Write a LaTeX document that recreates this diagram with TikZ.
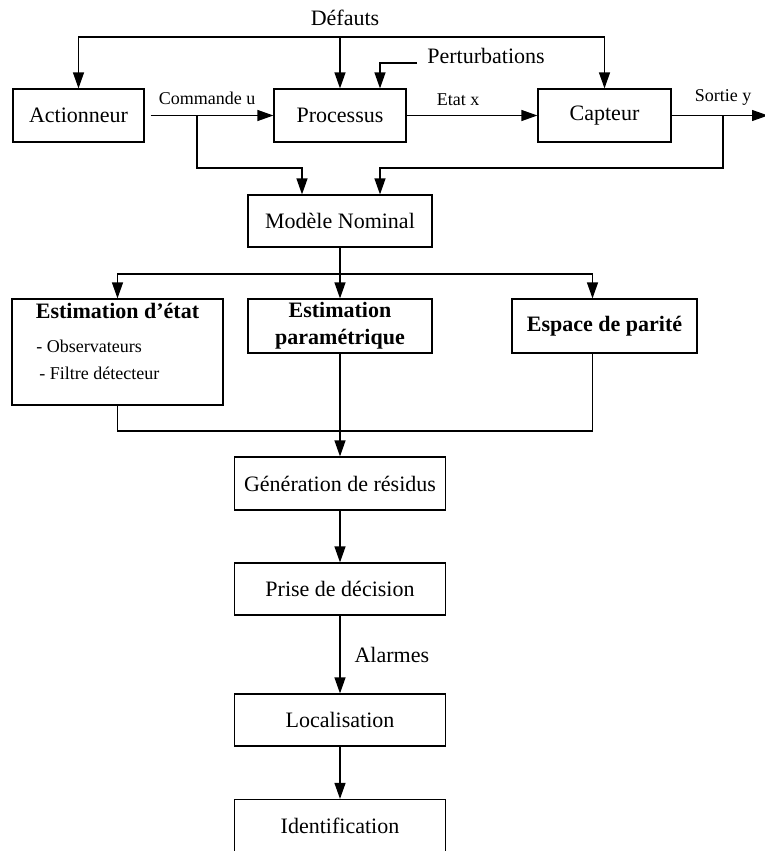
\documentclass[tikz,border=0pt]{standalone}
\usepackage{fontspec}
\setmainfont{Liberation Serif}
\usetikzlibrary{arrows.meta,positioning}

\tikzset{
  bloc/.style={draw, line width=0.6pt, inner sep=0pt, minimum height=26.5pt, font=\fontsize{11}{13.5}\selectfont},
  fleche/.style={line width=0.6pt, -{Triangle[length=8pt,width=5.5pt]}},
  trait/.style={line width=0.6pt},
  grand/.style={font=\fontsize{11}{13.5}\selectfont, inner sep=1pt},
  petit/.style={font=\fontsize{9}{11}\selectfont, inner sep=1pt},
}

\begin{document}
\begin{tikzpicture}[x=0.5pt,y=-0.5pt]
    \useasboundingbox (0,0) rectangle (765,851);

    % Chaine du systeme
    \node[bloc, minimum width=65.5pt] (act) at (78.5,115.5) {Actionneur};
    \node[bloc, minimum width=66pt] (proc) at (340,115.5) {Processus};
    \node[bloc, minimum width=66.5pt] (capt) at (604.5,115.5) {Capteur};
    \node[grand] (def) at (345,18) {Défauts};
    \node[grand, anchor=base west, inner xsep=5pt] (pert) at (417,63) {Perturbations};
    \coordinate (dh) at (340,37);
    \coordinate (cu) at (197,115.5);
    \coordinate (sy) at (723,115.5);
    \coordinate (sortie) at (768,115.5);

    % Defauts et perturbations
    \draw[fleche] (dh) -| (act.north);
    \draw[fleche] (dh) -| (capt.north);
    \draw[fleche] (dh) -- (proc.north);
    \draw[fleche] (pert.base west) -| ([xshift=20pt]proc.north);

    % Signaux
    \draw[fleche, shorten <=3pt] (act) -- (proc);
    \draw[fleche] (proc) -- (capt);
    \draw[fleche] (capt) -- (sortie);
    \node[petit] (cmd) at (207,98) {Commande u};
    \node[petit] (etat) at (458,100) {Etat x};
    \node[petit] (sor) at (723,97) {Sortie y};

    % Modele nominal
    \node[bloc, minimum width=92pt, minimum height=26pt] (mod) at (340,221) {Modèle Nominal};
    \draw[fleche] (cu) |- (250,168) -| ([xshift=-19pt]mod.north);
    \draw[fleche] (sy) |- (500,168) -| ([xshift=20pt]mod.north);

    % Methodes d'estimation
    \node[bloc, minimum width=105.5pt, minimum height=53pt] (estetat) at (117.5,352) {};
    \node[grand, font=\fontsize{11}{13.5}\selectfont\bfseries] (etitre) at (117.5,311) {Estimation d’état};
    \node[petit, anchor=west] (obs) at (34,346) {- Observateurs};
    \node[petit, anchor=west] (filt) at (37,373) {- Filtre détecteur};
    \node[bloc, minimum width=92pt, minimum height=27pt, align=center, font=\fontsize{11}{13.5}\selectfont\bfseries] (estparam) at (340,326) {Estimation\\paramétrique};
    \node[bloc, minimum width=92.5pt, minimum height=27pt, font=\fontsize{11}{13.5}\selectfont\bfseries] (parite) at (604.5,326) {Espace de parité};
    \coordinate (rep) at (340,274);
    \coordinate (col) at (340,431);
    \draw[trait] (mod.south) -- (rep);
    \draw[fleche] (rep) -| (estetat.north);
    \draw[fleche] (rep) -- (estparam.north);
    \draw[fleche] (rep) -| ([xshift=-6pt]parite.north);
    \draw[trait] (estetat.south) |- (col) -| ([xshift=-6pt]parite.south);

    % Diagnostic
    \node[bloc, minimum width=105.5pt] (gen) at (340,483.5) {Génération de résidus};
    \node[bloc, minimum width=105.5pt, minimum height=26pt] (dec) at (340,589) {Prise de décision};
    \node[bloc, minimum width=105.5pt, minimum height=26pt] (loc) at (340,720) {Localisation};
    \node[bloc, minimum width=105.5pt, minimum height=26pt] (ident) at (340,825.5) {Identification};
    \draw[fleche] (estparam.south) -- (gen.north);
    \draw[fleche] (gen) -- (dec);
    \draw[fleche] (dec) -- node[grand, midway, right=6pt] (alarm) {Alarmes} (loc);
    \draw[fleche] (loc) -- (ident);
\end{tikzpicture}
\end{document}
